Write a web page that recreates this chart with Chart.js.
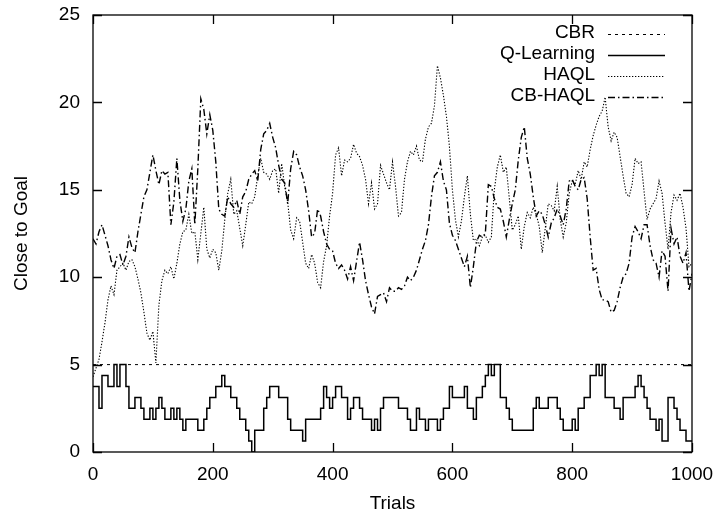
<!DOCTYPE html>
<html>
<head>
<meta charset="utf-8">
<script src="https://cdn.jsdelivr.net/npm/chart.js@4.4.0/dist/chart.umd.min.js"></script>
<style>
  html, body { margin: 0; padding: 0; background: #fff; }
  #wrap { width: 720px; height: 513px; }
</style>
</head>
<body>
<div id="wrap"><canvas id="myChart" width="720" height="513"></canvas></div>
<script>
/* Data section */
var trials = [];
for (var t = 0; t <= 1000; t += 5) trials.push(t);

var xTicks = [0, 200, 400, 600, 800, 1000];
var yTicks = [0, 5, 10, 15, 20, 25];

var cbrTrials = [0, 1000];
var cbr = [5, 5];

var qLearning = [
    3.75, 3.75, 2.5, 4.375, 4.375, 3.75, 3.75, 5, 3.75, 5,
    5, 3.75, 2.5, 2.5, 3.125, 3.125, 2.5, 1.875, 1.875, 2.5,
    1.875, 2.5, 3.125, 2.5, 1.875, 1.875, 2.5, 1.875, 2.5, 1.875,
    1.25, 1.875, 1.875, 1.875, 1.875, 1.25, 1.25, 1.875, 2.5, 3.125,
    3.125, 3.75, 3.75, 4.375, 3.75, 3.75, 3.125, 3.125, 2.5, 1.875,
    1.875, 1.25, 0.625, 0, 1.25, 1.25, 1.25, 2.5, 3.125, 3.75,
    3.75, 3.75, 3.125, 3.125, 3.125, 1.875, 1.25, 1.25, 1.25, 1.25,
    0.625, 1.875, 1.875, 1.875, 1.875, 1.875, 2.5, 3.75, 3.125, 2.5,
    3.125, 3.75, 3.75, 3.125, 3.125, 1.875, 2.5, 3.125, 3.125, 2.5,
    1.875, 1.875, 1.875, 1.25, 1.875, 1.25, 2.5, 3.125, 3.125, 3.125,
    3.125, 3.125, 2.5, 2.5, 2.5, 1.875, 1.25, 1.25, 2.5, 1.875,
    1.875, 1.25, 1.875, 1.875, 1.875, 1.25, 1.875, 2.5, 2.5, 3.75,
    3.125, 3.125, 3.125, 3.125, 3.75, 2.5, 2.5, 1.875, 3.125, 3.125,
    3.75, 4.375, 5, 4.375, 5, 5, 3.125, 3.125, 2.5, 1.875,
    1.25, 1.25, 1.25, 1.25, 1.25, 1.25, 1.25, 2.5, 3.125, 2.5,
    2.5, 2.5, 3.125, 3.125, 3.125, 2.5, 1.875, 1.25, 1.25, 1.25,
    1.875, 1.25, 2.5, 2.5, 3.125, 3.125, 4.375, 4.375, 5, 4.375,
    5, 3.125, 3.125, 3.125, 2.5, 2.5, 1.875, 3.125, 3.125, 3.125,
    3.125, 3.75, 4.375, 3.75, 3.125, 2.5, 1.875, 1.875, 1.25, 1.875,
    0.625, 0.625, 3.125, 3.125, 2.5, 1.875, 1.25, 1.25, 0.625, 0.625,
    0.625
];

var haql = [
    4.3, 4.8, 5.3, 6.3, 7.4, 8.7, 9.5, 9.0, 10.4, 10.6,
    10.8, 10.4, 10.9, 11.0, 10.6, 9.9, 9.1, 8.0, 6.8, 6.4,
    6.9, 5.1, 8.4, 9.8, 10.4, 10.2, 10.6, 9.9, 10.8, 11.9,
    12.6, 12.7, 13.6, 12.5, 12.6, 11.0, 12.5, 14.0, 11.6, 11.1,
    11.6, 11.4, 10.4, 11.5, 13.3, 14.8, 15.6, 13.6, 13.8, 12.8,
    11.8, 13.0, 14.3, 14.2, 14.6, 15.8, 16.8, 16.0, 15.9, 15.6,
    16.1, 16.2, 14.8, 16.5, 15.2, 14.3, 12.7, 12.2, 13.4, 13.2,
    12.0, 10.8, 10.5, 11.3, 10.8, 9.7, 9.4, 10.9, 11.8, 13.5,
    14.8, 17.0, 17.4, 15.8, 16.7, 16.6, 16.8, 17.6, 17.1, 16.9,
    16.4, 15.6, 14.2, 15.4, 13.9, 14.2, 16.4, 15.9, 15.4, 15.0,
    16.6, 15.2, 13.5, 13.7, 15.6, 16.6, 17.2, 17.0, 17.5, 16.7,
    16.6, 17.9, 18.6, 18.8, 19.8, 22.1, 21.4, 20.4, 19.2, 17.5,
    15.0, 13.3, 12.3, 13.2, 14.6, 15.8, 13.6, 12.1, 12.2, 11.8,
    12.3, 12.4, 12.0, 12.3, 15.0, 16.3, 17.0, 16.0, 16.3, 14.5,
    12.7, 13.0, 13.5, 11.6, 12.9, 13.7, 13.4, 14.0, 13.6, 12.9,
    11.4, 12.8, 14.2, 14.1, 13.8, 15.2, 13.3, 12.3, 13.1, 14.8,
    15.5, 15.3, 16.1, 15.6, 16.6, 16.3, 17.3, 18.1, 18.7, 19.2,
    19.5, 20.3, 18.6, 17.8, 18.3, 18.0, 16.9, 15.8, 14.8, 14.6,
    15.3, 16.8, 16.5, 16.6, 14.9, 13.3, 13.9, 14.2, 14.5, 15.5,
    14.8, 13.1, 11.6, 13.7, 14.7, 14.4, 14.8, 14.0, 12.8, 10.6,
    10.8
];

var cbHaql = [
    12.2, 11.9, 12.6, 13.0, 12.4, 11.8, 11.0, 10.5, 11.2, 11.3,
    10.7, 11.2, 12.3, 11.7, 11.4, 12.6, 13.6, 14.6, 15.0, 16.0,
    17.0, 16.1, 15.3, 16.1, 15.9, 16.0, 13.0, 14.3, 16.8, 14.4,
    13.2, 13.9, 15.5, 16.2, 13.0, 16.2, 20.2, 19.6, 18.2, 19.3,
    18.4, 16.6, 13.9, 13.6, 13.5, 14.6, 14.2, 14.0, 14.4, 13.6,
    14.6, 14.9, 15.6, 15.9, 16.1, 15.5, 17.3, 18.2, 18.4, 18.8,
    18.0, 17.4, 16.4, 15.6, 15.4, 14.2, 16.2, 17.2, 17.0, 16.3,
    15.8, 15.0, 13.8, 12.3, 12.5, 13.9, 13.5, 12.6, 11.9, 11.6,
    11.5, 10.8, 10.5, 10.7, 10.4, 9.9, 10.6, 9.8, 10.9, 12.0,
    11.0, 9.8, 9.0, 8.3, 7.9, 8.9, 9.0, 9.1, 8.6, 9.4,
    9.2, 9.2, 9.4, 9.3, 9.5, 10.0, 9.8, 10.0, 10.4, 11.0,
    11.6, 12.1, 13.0, 14.6, 15.8, 16.0, 16.6, 15.5, 15.0, 13.1,
    12.4, 12.1, 11.6, 11.1, 10.6, 11.2, 9.4, 10.6, 12.0, 12.4,
    12.3, 12.5, 15.3, 15.2, 14.5, 14.0, 13.9, 13.2, 12.3, 13.3,
    14.2, 15.0, 16.7, 18.0, 18.6, 16.8, 15.9, 14.6, 13.5, 13.8,
    13.6, 13.0, 12.3, 13.1, 13.4, 13.9, 13.5, 13.0, 13.9, 15.5,
    15.6, 15.2, 15.0, 15.6, 15.7, 14.5, 12.3, 10.4, 10.5, 9.3,
    8.7, 8.7, 8.6, 8.0, 8.1, 8.6, 9.4, 10.0, 10.2, 10.8,
    12.3, 12.9, 12.6, 12.2, 13.0, 13.0, 11.8, 11.0, 10.8, 10.0,
    11.5, 11.2, 9.2, 12.8, 11.9, 12.3, 11.2, 10.8, 11.4, 9.2,
    10.2
];

function pts(xs, ys) {
    return xs.map(function (x, i) { return { x: x, y: ys[i] }; });
}

var FONT = '"Liberation Sans", Arial, Helvetica, sans-serif';

/* Frame, inward ticks and key, gnuplot style */
var framePlugin = {
    id: 'frame',
    afterDatasetsDraw: function (chart) {
        var c = chart.ctx, a = chart.chartArea;
        var sx = chart.scales.x, sy = chart.scales.y;
        var tl = 9;
        c.save();
        c.strokeStyle = '#000';
        c.lineWidth = 1.3;
        c.setLineDash([]);
        c.beginPath();
        xTicks.forEach(function (v) {
            var px = Math.round(sx.getPixelForValue(v)) + 0.5;
            c.moveTo(px, a.bottom); c.lineTo(px, a.bottom - tl);
            c.moveTo(px, a.top); c.lineTo(px, a.top + tl);
        });
        yTicks.forEach(function (v) {
            var py = Math.round(sy.getPixelForValue(v)) + 0.5;
            c.moveTo(a.left, py); c.lineTo(a.left + tl, py);
            c.moveTo(a.right, py); c.lineTo(a.right - tl, py);
        });
        c.stroke();
        c.strokeRect(a.left, a.top, a.right - a.left, a.bottom - a.top);

        // key, top right
        c.font = '19px ' + FONT;
        c.fillStyle = '#000';
        c.textAlign = 'right';
        c.textBaseline = 'middle';
        var textX = a.right - 97, x0 = a.right - 84, x1 = a.right - 27;
        chart.data.datasets.forEach(function (ds, i) {
            var ly = a.top + 18 + i * 21;
            c.fillText(ds.label, textX, ly);
            c.lineWidth = ds.borderWidth;
            c.setLineDash(ds.borderDash || []);
            c.beginPath();
            c.moveTo(x0, ly + 1.5);
            c.lineTo(x1, ly + 1.5);
            c.stroke();
        });
        c.restore();
    }
};

/* Chart section */
var ctx = document.getElementById('myChart').getContext('2d');
var myChart = new Chart(ctx, {
    type: 'line',
    data: {
        datasets: [{
            label: 'CBR',
            data: pts(cbrTrials, cbr),
            borderColor: '#000',
            borderWidth: 1,
            borderDash: [3, 4],
        }, {
            label: 'Q-Learning',
            data: pts(trials, qLearning),
            borderColor: '#000',
            borderWidth: 1.5,
            stepped: true,
        }, {
            label: 'HAQL',
            data: pts(trials, haql),
            borderColor: '#000',
            borderWidth: 1.1,
            borderDash: [1.3, 1.7],
        }, {
            label: 'CB-HAQL',
            data: pts(trials, cbHaql),
            borderColor: '#000',
            borderWidth: 1.4,
            borderDash: [7, 3, 1.5, 3],
        }]
    },
    options: {
        responsive: false,
        animation: false,
        events: [],
        layout: { padding: { top: 15, right: 28, left: 0, bottom: 0 } },
        elements: {
            point: { radius: 0 },
            line: { tension: 0, fill: false }
        },
        plugins: {
            legend: { display: false },
            tooltip: { enabled: false }
        },
        scales: {
            x: {
                type: 'linear',
                min: 0,
                max: 1000,
                grid: { display: false, drawTicks: false },
                border: { display: false },
                ticks: {
                    stepSize: 200,
                    padding: 11,
                    maxRotation: 0,
                    color: '#000',
                    font: { family: FONT, size: 19 },
                    callback: function (v) { return String(v); }
                },
                title: {
                    display: true,
                    text: 'Trials',
                    color: '#000',
                    padding: { top: 0, bottom: 0 },
                    font: { family: FONT, size: 19, lineHeight: 1 }
                },
                afterFit: function (scale) {
                    scale.height = 61;
                    scale.paddingLeft = 0;
                    scale.paddingRight = 0;
                }
            },
            y: {
                min: 0,
                max: 25,
                grid: { display: false, drawTicks: false },
                border: { display: false },
                ticks: {
                    stepSize: 5,
                    padding: 13,
                    color: '#000',
                    font: { family: FONT, size: 19 }
                },
                title: {
                    display: true,
                    text: 'Close to Goal',
                    color: '#000',
                    padding: { top: 12, bottom: 0 },
                    font: { family: FONT, size: 19, lineHeight: 1 }
                },
                afterFit: function (scale) {
                    scale.width = 93;
                    scale.paddingTop = 0;
                    scale.paddingBottom = 0;
                }
            }
        }
    },
    plugins: [framePlugin]
});
</script>
</body>
</html>
